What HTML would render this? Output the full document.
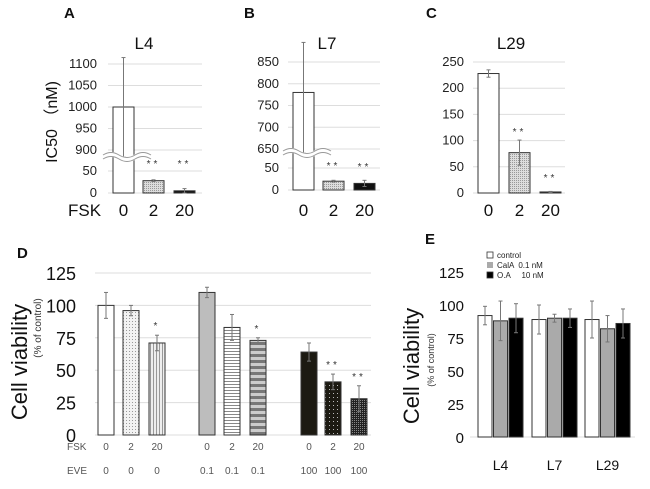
<!DOCTYPE html>
<html><head><meta charset="utf-8"><style>
html,body{margin:0;padding:0;background:#fff;}
svg{display:block;font-family:"Liberation Sans",Arial,sans-serif;}
</style></head><body>
<svg id="fig" width="650" height="489" viewBox="0 0 650 489" xmlns="http://www.w3.org/2000/svg">
<defs>
<pattern id="pDots" width="3" height="3" patternUnits="userSpaceOnUse"><rect width="3" height="3" fill="#f2f2f2"/><rect width="1" height="1" fill="#999"/></pattern>
<pattern id="pVert" width="3" height="3" patternUnits="userSpaceOnUse"><rect width="3" height="3" fill="#eee"/><rect width="1" height="3" fill="#999"/></pattern>
<pattern id="pHor" width="3" height="3" patternUnits="userSpaceOnUse"><rect width="3" height="3" fill="#fff"/><rect width="3" height="1" fill="#888"/></pattern>
<pattern id="pHorThick" width="6" height="6" patternUnits="userSpaceOnUse"><rect width="6" height="6" fill="#ccc"/><rect width="6" height="3" fill="#777"/></pattern>
<pattern id="pDarkDots" width="4" height="4" patternUnits="userSpaceOnUse"><rect width="4" height="4" fill="#1c1a12"/><rect x="1" y="1" width="1" height="1" fill="#bbb"/></pattern>
<pattern id="pDarkDense" width="2" height="2" patternUnits="userSpaceOnUse"><rect width="2" height="2" fill="#222"/><rect width="1" height="1" fill="#888"/></pattern>
<pattern id="pGrid" width="2" height="2" patternUnits="userSpaceOnUse"><rect width="2" height="2" fill="#ddd"/><rect width="1" height="1" fill="#999"/></pattern>
</defs>
</svg>
<script>
// ---- Panel A data ----
const aCats=["0","2","20"];
const aVals=[1000,28,5];
const aErr=[115,2,5];
const aTicks=[0,50,900,950,1000,1050,1100];
// ---- Panel B data ----
const bCats=["0","2","20"];
const bVals=[780,20,15];
const bErr=[115,2,7];
const bTicks=[0,50,650,700,750,800,850];
// ---- Panel C data ----
const cCats=["0","2","20"];
const cVals=[228,77,2];
const cErr=[7,24,1];
const cTicks=[0,50,100,150,200,250];
// ---- Panel D data ----
const dFsk=["0","2","20","0","2","20","0","2","20"];
const dEve=["0","0","0","0.1","0.1","0.1","100","100","100"];
const dVals=[100,96,71,110,83,73,64,41,28];
const dErr=[10,4,6,4,10,2,7,6,10];
const dStars=["","","*","","","*","","**","**"];
const dTicks=[0,25,50,75,100,125];
// ---- Panel E data ----
const eCats=["L4","L7","L29"];
const eSeries=["control","CalA  0.1 nM","O.A     10 nM"];
const eVals=[[92,89,89],[88,90,82],[90,90,86]];
const eErr=[[7,11,14],[15,3,10],[11,7,11]];
const eTicks=[0,25,50,75,100,125];

const svg=document.getElementById('fig');
const NS="http://www.w3.org/2000/svg";
function el(tag,attrs,parent){const e=document.createElementNS(NS,tag);for(const k in attrs)e.setAttribute(k,attrs[k]);(parent||svg).appendChild(e);return e;}
function txt(s,attrs,parent){const e=el('text',attrs,parent);e.textContent=s;return e;}
function errbar(g,x,y1,y2){el('line',{x1:x,x2:x,y1:y1,y2:y2,stroke:'#777','stroke-width':1},g);el('line',{x1:x-2,x2:x+2,y1:y1,y2:y1,stroke:'#777','stroke-width':1},g);el('line',{x1:x-2,x2:x+2,y1:y2,y2:y2,stroke:'#777','stroke-width':1},g);}

function brokenScale(loMax,loY0,loY1,hiMin,hiMax,hiY0,hiY1){
  return v=> v<=loMax ? loY0+(loY1-loY0)*v/loMax : hiY0+(hiY1-hiY0)*(v-hiMin)/(hiMax-hiMin);
}

function topPanel(opt){
  const g=el('g',{},svg);
  
  
  const y=opt.y;
  opt.ticks.forEach(t=>{
    const yy=y(t);
    const l=el('line',{x1:opt.x0,x2:opt.x1,y1:yy,y2:yy,stroke:'#ddd','stroke-width':1},g);
    
    const tl=txt(String(t),{x:opt.tickX,y:yy+4,'text-anchor':'end','font-size':13,fill:'#222'},g);
    
  });
  opt.vals.forEach((v,i)=>{
    const bx=opt.barX[i], w=opt.barW;
    const top=y(v), bot=y(0);
    const b=el('rect',{x:bx,y:top,width:w,height:bot-top,fill:opt.fills[i],stroke:'#333','stroke-width':1},g);
    
    const cx=bx+w/2;
    errbar(g,cx,y(v+opt.err[i]),opt.broken&&i===0?opt.breakY:y(Math.max(0,v-opt.err[i])));
    const lab=txt(opt.cats[i],{x:cx,y:216,'text-anchor':'middle','font-size':17,fill:'#111'},g);
    
    if(opt.stars[i]){const s=txt(opt.stars[i],{x:cx,y:opt.starY[i],'text-anchor':'middle','font-size':10,fill:'#333','letter-spacing':'3'},g);}
  });
  if(opt.broken){
    const bg=el('g',{},g);
    const x=opt.barX[0]-10, by=opt.breakY;
    el('path',{d:`M${x} ${by} q8 -5 16 0 t16 0 t16 0`,fill:'none',stroke:'#fff','stroke-width':5},bg);
    el('path',{d:`M${x} ${by-2} q8 -5 16 0 t16 0 t16 0`,fill:'none',stroke:'#999','stroke-width':1},bg);
    el('path',{d:`M${x} ${by+2} q8 -5 16 0 t16 0 t16 0`,fill:'none',stroke:'#999','stroke-width':1},bg);
  }
  const t=txt(opt.title,{x:opt.titleX,y:49,'text-anchor':'middle','font-size':17,fill:'#111'},g);
  
  const L=txt(opt.letter,{x:opt.letterX,y:18,'font-size':15,'font-weight':'bold',fill:'#111'},g);
  
}

topPanel({name:'panel-a-chart',title:'L4',titleX:144,letter:'A',letterX:64,
  y:brokenScale(50,193,171,900,1100,150,64),ticks:aTicks,x0:108,x1:202,tickX:97,
  vals:aVals,err:aErr,cats:aCats,barX:[113,143,174],barW:21,broken:true,breakY:157,
  fills:['#fff','url(#pGrid)','#111'],stars:['','**','**'],starY:[0,167,167]});
topPanel({name:'panel-b-chart',title:'L7',titleX:327,letter:'B',letterX:244,
  y:brokenScale(50,190,168,650,850,149,62),ticks:bTicks,x0:288,x1:380,tickX:279,
  vals:bVals,err:bErr,cats:bCats,barX:[293,323,354],barW:21,broken:true,breakY:153,
  fills:['#fff','url(#pGrid)','#111'],stars:['','**','**'],starY:[0,169,170]});
topPanel({name:'panel-c-chart',title:'L29',titleX:511,letter:'C',letterX:426,
  y:v=>193-(193-62)*v/250,ticks:cTicks,x0:473,x1:565,tickX:464,
  vals:cVals,err:cErr,cats:cCats,barX:[478,509,540],barW:21,broken:false,
  fills:['#fff','url(#pGrid)','#111'],stars:['','**','**'],starY:[0,135,181]});

const fl=txt('FSK',{x:68,y:216,'font-size':17,fill:'#111'});

const yt=txt('IC50 （nM)',{x:0,y:0,'font-size':16,fill:'#111','text-anchor':'middle',transform:'translate(57,122) rotate(-90)'});


// ---- Panel D ----
(function(){
  const g=el('g',{},svg);
  
  const y=v=>435-(435-273)*v/125;
  const barX=[98,123,149,199,224,250,301,325,351], w=16;
  const fills=['#fff','url(#pDots)','url(#pVert)','#bdbdbd','url(#pHor)','url(#pHorThick)','#1c1a12','url(#pDarkDots)','url(#pDarkDense)'];
  dTicks.forEach(t=>{
    const l=el('line',{x1:95,x2:371,y1:y(t),y2:y(t),stroke:'#ddd'},g);
    const tl=txt(String(t),{x:76,y:y(t)+7,'text-anchor':'end','font-size':18,fill:'#111'},g);
  });
  dVals.forEach((v,i)=>{
    const b=el('rect',{x:barX[i],y:y(v),width:w,height:y(0)-y(v),fill:fills[i],stroke:'#333','stroke-width':1},g);
    
    const cx=barX[i]+w/2;
    errbar(g,cx,y(v+dErr[i]),y(v-dErr[i]));
    if(dStars[i]){const s=txt(dStars[i],{x:cx,y:y(v+dErr[i])-6,'text-anchor':'middle','font-size':10,fill:'#333','letter-spacing':'3'},g);}
    const f=txt(dFsk[i],{x:cx,y:450,'text-anchor':'middle','font-size':10,fill:'#555'},g);
    const e=txt(dEve[i],{x:cx,y:474,'text-anchor':'middle','font-size':10,fill:'#555'},g);
  });
  const r1=txt('FSK',{x:67,y:450,'font-size':10,fill:'#555'},g);
  const r2=txt('EVE',{x:67,y:474,'font-size':10,fill:'#555'},g);
  const L=txt('D',{x:17,y:258,'font-size':15,'font-weight':'bold',fill:'#111'},g);
  const t1=txt('Cell viability',{x:0,y:0,'font-size':22,fill:'#111','text-anchor':'middle',transform:'translate(27,362) rotate(-90)'},g);
  const t2=txt('(% of control)',{x:0,y:0,'font-size':10,fill:'#333','text-anchor':'middle',transform:'translate(41,328) rotate(-90)'},g);
})();

// ---- Panel E ----
(function(){
  const g=el('g',{},svg);
  
  const y=v=>437-(437-272)*v/125;
  const groupX=[478,532,585], w=14, step=15.5;
  const fills=['#fff','#aaa','#000'];
  eTicks.forEach(t=>{
    const tl=txt(String(t),{x:464,y:y(t)+6,'text-anchor':'end','font-size':15,fill:'#111'},g);
  });
  const bl=el('line',{x1:470,x2:635,y1:y(0),y2:y(0),stroke:'#ddd'},g);
  
  eCats.forEach((c,ci)=>{
    eSeries.forEach((s,si)=>{
      const v=eVals[si][ci], bx=groupX[ci]+si*step;
      const b=el('rect',{x:bx,y:y(v),width:w,height:y(0)-y(v),fill:fills[si],stroke:'#333','stroke-width':1},g);
      
      errbar(g,bx+w/2,y(v+eErr[si][ci]),y(v-eErr[si][ci]));
    });
    const lab=txt(c,{x:groupX[ci]+step*1+w/2,y:470,'text-anchor':'middle','font-size':14,fill:'#111'},g);
    
  });
  eSeries.forEach((s,si)=>{
    const lg=el('g',{},g);
    el('rect',{x:487,y:252+si*10,width:6,height:6,fill:fills[si],stroke:si===1?'none':'#333','stroke-width':0.8},lg);
    const lt=txt(s,{x:497,y:258+si*10,'font-size':8,fill:'#222'},lg);lt.setAttribute('style','white-space:pre');
  });
  const L=txt('E',{x:425,y:244,'font-size':15,'font-weight':'bold',fill:'#111'},g);
  const t1=txt('Cell viability',{x:0,y:0,'font-size':22,fill:'#111','text-anchor':'middle',transform:'translate(419,366) rotate(-90)'},g);
  const t2=txt('(% of control)',{x:0,y:0,'font-size':9,fill:'#333','text-anchor':'middle',transform:'translate(434,360) rotate(-90)'},g);
})();
</script>
</body></html>
